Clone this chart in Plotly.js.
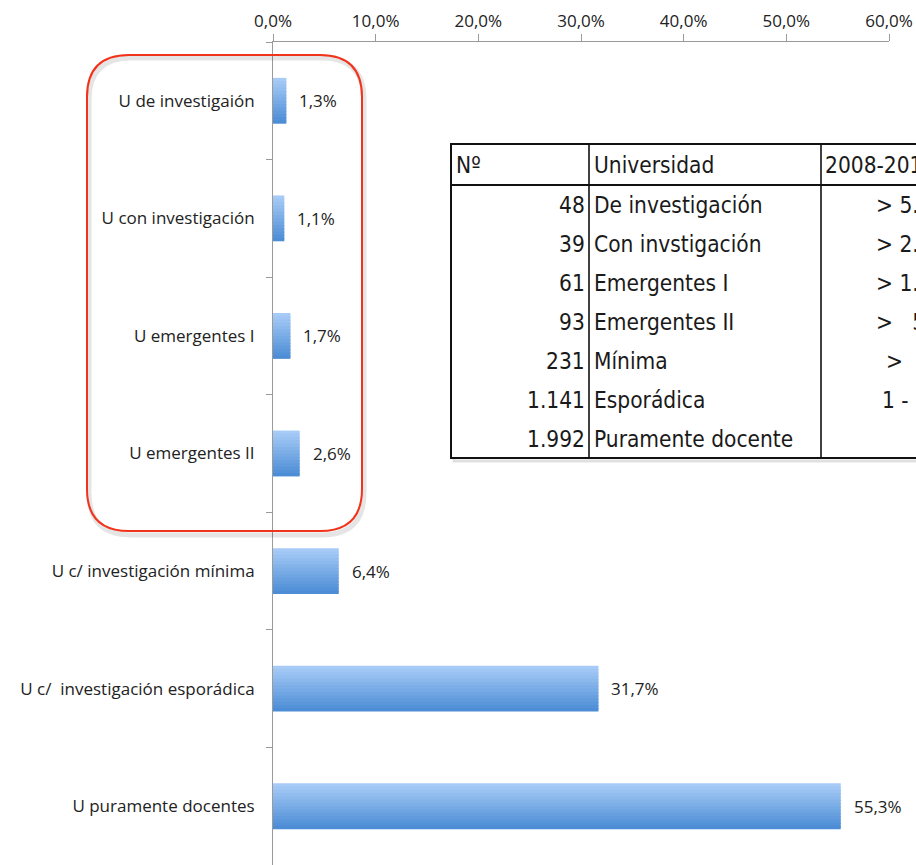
<!DOCTYPE html>
<html>
<head>
<meta charset="utf-8">
<script src="https://cdn.plot.ly/plotly-3.0.1.min.js"></script>
<style>html,body{margin:0;padding:0;background:#fff;overflow:hidden}</style>
</head>
<body>
<div id="chart" style="width:916px;height:865px"></div>
<script>
// ---- data ----
const categories = [
  "U de investigaión",
  "U con investigación",
  "U emergentes I",
  "U emergentes II",
  "U c/ investigación mínima",
  "U c/  investigación esporádica",
  "U puramente docentes"
];
const shares = [0.013, 0.011, 0.017, 0.026, 0.064, 0.317, 0.553];

const tableNumbers = ["48", "39", "61", "93", "231", "1.141", "1.992"];
const tableTypes = ["De investigación", "Con invstigación", "Emergentes I", "Emergentes II", "Mínima", "Esporádica", "Puramente docente"];
const tableRange = ["> 5.000", "> 2.500", "> 1.200", ">\u00a0\u00a0\u00a0500", ">", "1 - 100", ""];
const tableHeader = ["Nº", "Universidad", "2008-2012"];

// ---- geometry helpers (pixel -> paper) ----
const L = 273, R = 27, T = 42, B = 0, W = 916, H = 865;
const pw = W - L - R, ph = H - T - B;
const px = x => (x - L) / pw;
const py = y => (H - B - y) / ph;

function roundRectPath(x0, y0, x1, y1, r) {
  const P = (x, y) => px(x).toFixed(5) + "," + py(y).toFixed(5);
  return "M" + P(x0 + r, y0) +
    " L" + P(x1 - r, y0) + " Q" + P(x1, y0) + " " + P(x1, y0 + r) +
    " L" + P(x1, y1 - r) + " Q" + P(x1, y1) + " " + P(x1 - r, y1) +
    " L" + P(x0 + r, y1) + " Q" + P(x0, y1) + " " + P(x0, y1 - r) +
    " L" + P(x0, y0 + r) + " Q" + P(x0, y0) + " " + P(x0 + r, y0) + " Z";
}

// ---- bars (gradient emulated with stacked bands, overlay) ----
const N = 14;
const barW = 0.39;
const gradTop = [167, 203, 247], gradBot = [76, 141, 213];
const traces = [];
for (let k = 0; k < N; k++) {
  const t = k / (N - 1);
  const c = gradTop.map((v, i) => Math.round(v + (gradBot[i] - v) * t));
  const last = k === N - 1;
  traces.push({
    type: "bar",
    orientation: "h",
    x: shares,
    y: categories,
    width: barW / N + (last ? 0 : 0.012),
    offset: -barW / 2 + k * barW / N,
    marker: { color: "rgb(" + c.join(",") + ")", line: { width: 0 } },
    hoverinfo: "skip",
    showlegend: false
  });
}

const lblFont = { family: "Open Sans, Liberation Sans, sans-serif", size: 17, color: "#222" };
const annotations = shares.map((v, i) => ({
  x: v, y: categories[i], xref: "x", yref: "y",
  text: (v * 100).toFixed(1).replace(".", ",") + "%",
  showarrow: false, xanchor: "left", yanchor: "middle", xshift: 11,
  font: lblFont
}));

// ---- table ----
const tFont = { family: "Liberation Sans Narrow, DejaVu Sans Condensed, Liberation Sans, sans-serif", size: 22.5, color: "#1a1a1a" };
const rowY = [205, 244, 283, 322, 361, 400, 439];
const headY = 165;
function ann(x, y, text, anchor) {
  annotations.push({ x: px(x), y: py(y), xref: "paper", yref: "paper", text: text, showarrow: false,
    xanchor: anchor, yanchor: "middle", font: tFont });
}
ann(454, headY, tableHeader[0], "left");
ann(592, headY, tableHeader[1], "left");
ann(823, headY, tableHeader[2], "left");
tableNumbers.forEach((t, i) => ann(587, rowY[i], t, "right"));
tableTypes.forEach((t, i) => ann(592, rowY[i], t, "left"));
const rangeX = [874, 874, 874, 874, 884, 880, 880];
tableRange.forEach((t, i) => { if (t) ann(rangeX[i], rowY[i], t, "left"); });

const shapes = [];
// table shadow + body
shapes.push({ type: "rect", xref: "paper", yref: "paper", x0: px(454), x1: px(960), y0: py(147), y1: py(461),
  line: { color: "rgba(0,0,0,0.12)", width: 3 }, fillcolor: "rgba(0,0,0,0)", layer: "above" });
shapes.push({ type: "rect", xref: "paper", yref: "paper", x0: px(451), x1: px(960), y0: py(144), y1: py(458),
  line: { color: "#111", width: 2 }, fillcolor: "#fff", layer: "above" });
shapes.push({ type: "line", xref: "paper", yref: "paper", x0: px(451), x1: px(960), y0: py(185), y1: py(185),
  line: { color: "#111", width: 2 } });
[589, 821].forEach(x => shapes.push({ type: "line", xref: "paper", yref: "paper", x0: px(x), x1: px(x), y0: py(144), y1: py(458),
  line: { color: "#111", width: 1.6 } }));

// red rounded highlight with soft shadow
shapes.push({ type: "path", xref: "paper", yref: "paper", path: roundRectPath(89, 58, 364, 535, 42),
  line: { color: "rgba(0,0,0,0.10)", width: 5 }, fillcolor: "rgba(0,0,0,0)" });
shapes.push({ type: "path", xref: "paper", yref: "paper", path: roundRectPath(87, 55, 362, 531, 42),
  line: { color: "#f2331c", width: 2 }, fillcolor: "rgba(0,0,0,0)" });

const layout = {
  width: W, height: H,
  margin: { l: L, r: R, t: T, b: B, pad: 0 },
  paper_bgcolor: "#fff", plot_bgcolor: "#fff",
  separators: ",.",
  barmode: "overlay",
  showlegend: false,
  font: lblFont,
  xaxis: {
    side: "top", range: [0, 0.6], dtick: 0.1, tick0: 0, tickformat: ".1%",
    showgrid: false, zeroline: false, showline: true, linecolor: "#9a9a9a", linewidth: 1,
    ticks: "outside", ticklen: 7, tickcolor: "#9a9a9a",
    tickfont: lblFont,
    fixedrange: true
  },
  yaxis: {
    type: "category", categoryorder: "array", categoryarray: categories,
    range: [6.5, -0.5],
    showgrid: false, zeroline: false, showline: true, linecolor: "#9a9a9a", linewidth: 1,
    ticks: "outside", ticklen: 6, tickcolor: "#9a9a9a", tickson: "boundaries",
    ticklabelstandoff: 14,
    tickfont: lblFont,
    fixedrange: true
  },
  annotations: annotations,
  shapes: shapes
};

Plotly.newPlot("chart", traces, layout, { displayModeBar: false, staticPlot: true });
</script>
</body>
</html>
